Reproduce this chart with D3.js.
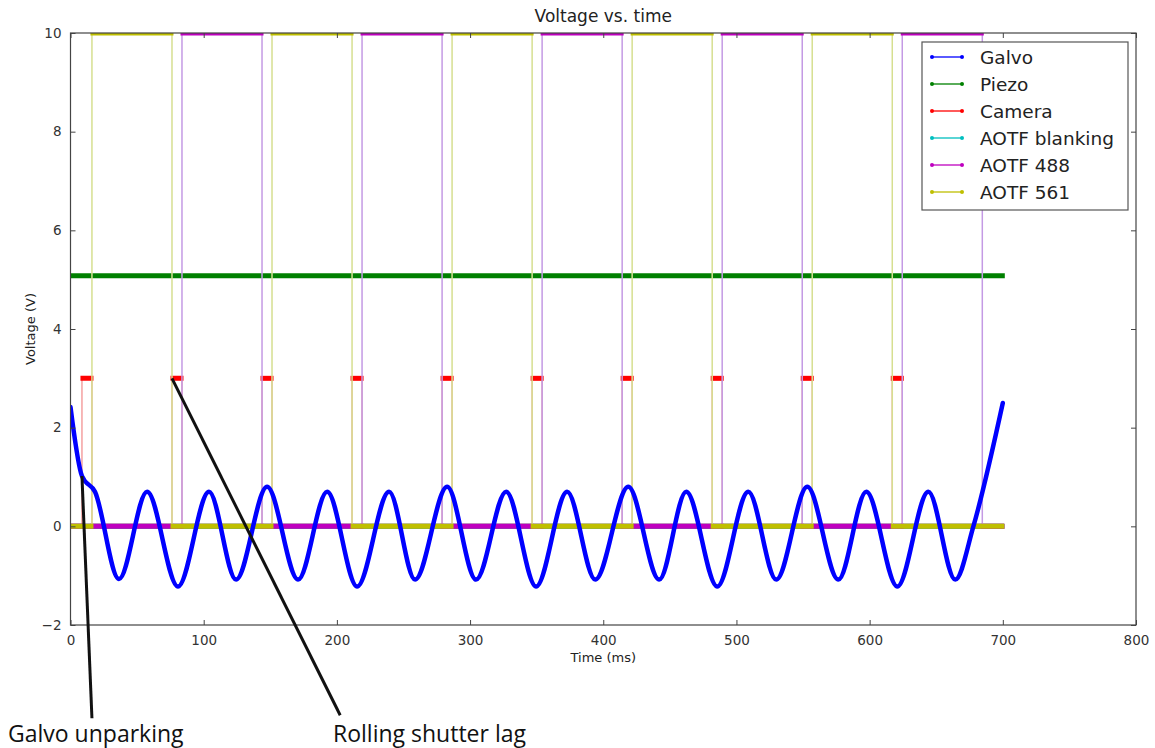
<!DOCTYPE html>
<html>
<head>
<meta charset="utf-8">
<script src="https://cdn.jsdelivr.net/npm/d3@7"></script>
<style>
  html, body { margin: 0; padding: 0; background: #fff; }
  svg { display: block; }
</style>
</head>
<body>
<svg id="chart" width="1155" height="748"></svg>
<script>
// ---------------- data ----------------
const xTicks = [0, 100, 200, 300, 400, 500, 600, 700, 800];
const yTicks = [-2, 0, 2, 4, 6, 8, 10];
const seriesNames = ["Galvo", "Piezo", "Camera", "AOTF blanking", "AOTF 488", "AOTF 561"];
const seriesColors = ["#0000ff", "#008000", "#ff0000", "#00bfbf", "#bf00bf", "#bfbf00"];
const edgeColors = ["#0000ff", "#008000", "#f4a0a0", "#90dede", "#c49ae4", "#d6df90"];

// Galvo waveform: time (ms) and voltage (V) at its corners / turning points
const galvoTime = [0, 8.6, 18.4, 36.4, 57.5, 80.7, 104.0, 124.3, 147.6, 170.9, 192.7, 215.2, 239.2, 258.7,
  282.8, 304.5, 327.1, 349.6, 372.9, 394.0, 418.8, 442.0, 462.3, 485.6, 508.9, 529.9, 553.2, 576.5,
  597.5, 620.8, 644.1, 664.3, 677.9, 700];
const galvoVolt = [2.42, 1.02, 0.70, -1.07, 0.70, -1.22, 0.70, -1.08, 0.80, -1.08, 0.70, -1.22, 0.70, -1.08,
  0.80, -1.08, 0.70, -1.22, 0.70, -1.08, 0.80, -1.08, 0.70, -1.22, 0.70, -1.08, 0.80, -1.08,
  0.70, -1.22, 0.70, -1.08, 0.0, 2.50];

// Piezo: constant level
const piezoSpan = [0, 700];
const piezoLevel = 5.08;

// Camera trigger pulses (ms) and level (V)
const cameraOn  = [8.6, 76.2, 143.8, 211.4, 279.0, 346.6, 414.2, 481.8, 549.4, 617.0];
const cameraOff = [16.1, 83.7, 151.3, 218.9, 286.5, 354.1, 421.7, 489.3, 556.9, 624.5];
const cameraLevel = 3;

// AOTF blanking: stays at 0 over the run
const blankingOn = [];
const blankingOff = [];
const blankingLevel = 10;

// AOTF 488 / 561 on-windows (ms) and level (V)
const aotf488On  = [83.7, 218.9, 354.1, 489.3, 624.5];
const aotf488Off = [143.8, 279.0, 414.2, 549.4, 684.6];
const aotf561On  = [16.1, 151.3, 286.5, 421.7, 556.9];
const aotf561Off = [76.2, 211.4, 346.6, 481.8, 617.0];
const aotfLevel = 10;
const runSpan = [0, 700];

// annotations: [x0, y0, x1, y1] in data units, label
const annGalvo = [8.6, 1.02, 16.1, -3.89];
const annShutter = [76.2, 3.0, 202.5, -3.83];
const annLabels = ["Galvo unparking", "Rolling shutter lag"];

// ---------------- drawing ----------------
const svg = d3.select("#chart");
const L = 70.5, R = 1136, T = 33, B = 625;
const x = d3.scaleLinear().domain([0, 800]).range([L, R]);
const y = d3.scaleLinear().domain([-2, 10]).range([B, T]);

svg.append("defs").append("clipPath").attr("id", "plotclip")
  .append("rect").attr("x", L).attr("y", T).attr("width", R - L).attr("height", B - T);

const plot = svg.append("g").attr("clip-path", "url(#plotclip)");

function stepPoints(ons, offs, level, span) {
  const pts = [[span[0], 0]];
  ons.forEach((t, i) => {
    pts.push([t, 0], [t, level], [offs[i], level], [offs[i], 0]);
  });
  pts.push([span[1], 0]);
  return pts;
}
function runs(pts) {
  const out = [];
  for (let i = 0; i < pts.length - 1; i++) {
    if (pts[i][1] === pts[i + 1][1] && pts[i][0] !== pts[i + 1][0]) out.push([pts[i], pts[i + 1]]);
  }
  return out;
}
const line = d3.line().x(d => x(d[0])).y(d => y(d[1]));

function drawStep(pts, color, edge) {
  const g = plot.append("g");
  g.append("path").attr("d", line(pts)).attr("fill", "none")
    .attr("stroke", edge).attr("stroke-width", 1.5);
  g.selectAll("line.run").data(runs(pts)).join("line").attr("class", "run")
    .attr("x1", d => x(d[0][0]) - 1.5).attr("x2", d => x(d[1][0]) + 1.5)
    .attr("y1", d => y(d[0][1])).attr("y2", d => y(d[1][1]))
    .attr("stroke", color).attr("stroke-width", 5);
}

// Piezo
const piezoPts = [[piezoSpan[0], piezoLevel], [piezoSpan[1], piezoLevel]];
plot.append("line")
  .attr("x1", x(piezoPts[0][0])).attr("x2", x(piezoPts[1][0]) + 2)
  .attr("y1", y(piezoPts[0][1])).attr("y2", y(piezoPts[1][1]))
  .attr("stroke", seriesColors[1]).attr("stroke-width", 5);

// Camera, blanking, 488, 561
drawStep(stepPoints(cameraOn, cameraOff, cameraLevel, runSpan), seriesColors[2], edgeColors[2]);
drawStep(stepPoints(blankingOn, blankingOff, blankingLevel, runSpan), seriesColors[3], edgeColors[3]);
drawStep(stepPoints(aotf488On, aotf488Off, aotfLevel, runSpan), seriesColors[4], edgeColors[4]);
drawStep(stepPoints(aotf561On, aotf561Off, aotfLevel, runSpan), seriesColors[5], edgeColors[5]);

// Galvo (thick, smooth)
const galvoData = galvoTime.map((t, i) => [t, galvoVolt[i]]);
plot.append("path")
  .attr("d", d3.line().curve(d3.curveMonotoneX).x(d => x(d[0])).y(d => y(d[1]))(galvoData))
  .attr("fill", "none").attr("stroke", seriesColors[0]).attr("stroke-width", 4.5)
  .attr("stroke-linejoin", "round").attr("stroke-linecap", "round");

// ---------------- axes ----------------
const axisColor = "#444";
const fontAxis = "DejaVu Sans, sans-serif";
function styleAxis(g, showLabels) {
  g.select(".domain").remove();
  g.selectAll(".tick line").attr("stroke", axisColor);
  g.selectAll(".tick text").attr("fill", "#333").style("font-family", fontAxis).style("font-size", "13.5px");
  if (!showLabels) g.selectAll(".tick text").remove();
}
svg.append("g").attr("transform", `translate(0,${B})`)
  .call(d3.axisBottom(x).tickValues(xTicks).tickSizeInner(-5).tickSizeOuter(0).tickPadding(10))
  .call(g => styleAxis(g, true));
svg.append("g").attr("transform", `translate(0,${T})`)
  .call(d3.axisTop(x).tickValues(xTicks).tickSizeInner(-5).tickSizeOuter(0))
  .call(g => styleAxis(g, false));
svg.append("g").attr("transform", `translate(${L},0)`)
  .call(d3.axisLeft(y).tickValues(yTicks).tickSizeInner(-5).tickSizeOuter(0).tickPadding(9)
    .tickFormat(d => d < 0 ? "\u2212" + Math.abs(d) : d))
  .call(g => styleAxis(g, true));
svg.append("g").attr("transform", `translate(${R},0)`)
  .call(d3.axisRight(y).tickValues(yTicks).tickSizeInner(-5).tickSizeOuter(0))
  .call(g => styleAxis(g, false));

svg.append("rect").attr("x", L).attr("y", T).attr("width", R - L).attr("height", B - T)
  .attr("fill", "none").attr("stroke", axisColor).attr("stroke-width", 1.2);

// titles
svg.append("text").attr("x", (L + R) / 2).attr("y", 22).attr("text-anchor", "middle")
  .style("font-family", fontAxis).style("font-size", "17px").attr("fill", "#222").text("Voltage vs. time");
svg.append("text").attr("x", (L + R) / 2).attr("y", 662).attr("text-anchor", "middle")
  .style("font-family", fontAxis).style("font-size", "13px").attr("fill", "#222").text("Time (ms)");
svg.append("text").attr("transform", `translate(35,${(T + B) / 2}) rotate(-90)`).attr("text-anchor", "middle")
  .style("font-family", fontAxis).style("font-size", "13px").attr("fill", "#222").text("Voltage (V)");

// ---------------- legend ----------------
const lg = svg.append("g");
lg.append("rect").attr("x", 922).attr("y", 42).attr("width", 206).attr("height", 168)
  .attr("fill", "#fff").attr("stroke", "#555").attr("stroke-width", 1.2);
const items = lg.selectAll("g.item").data(seriesNames).join("g").attr("class", "item")
  .attr("transform", (d, i) => `translate(0,${57 + i * 27})`);
items.append("line").attr("x1", 932).attr("x2", 962).attr("y1", 0).attr("y2", 0)
  .attr("stroke", (d, i) => seriesColors[i]).attr("stroke-width", 1.3);
items.selectAll("circle").data((d, i) => [[932, i], [962, i]]).join("circle")
  .attr("cx", d => d[0]).attr("cy", 0).attr("r", 2).attr("fill", d => seriesColors[d[1]]);
items.append("text").attr("x", 980).attr("y", 6.5).text(d => d)
  .style("font-family", fontAxis).style("font-size", "18.5px").attr("fill", "#222");

// ---------------- annotations ----------------
const ann = svg.append("g");
[annGalvo, annShutter].forEach(a => {
  ann.append("line").attr("x1", x(a[0])).attr("y1", y(a[1])).attr("x2", x(a[2])).attr("y2", y(a[3]))
    .attr("stroke", "#111").attr("stroke-width", 3);
});
ann.append("text").attr("x", 8).attr("y", 742).text(annLabels[0])
  .style("font-family", "'Open Sans', sans-serif").style("font-size", "23px").attr("fill", "#111");
ann.append("text").attr("x", 333).attr("y", 742).text(annLabels[1])
  .style("font-family", "'Open Sans', sans-serif").style("font-size", "23px").attr("fill", "#111");
</script>
</body>
</html>
